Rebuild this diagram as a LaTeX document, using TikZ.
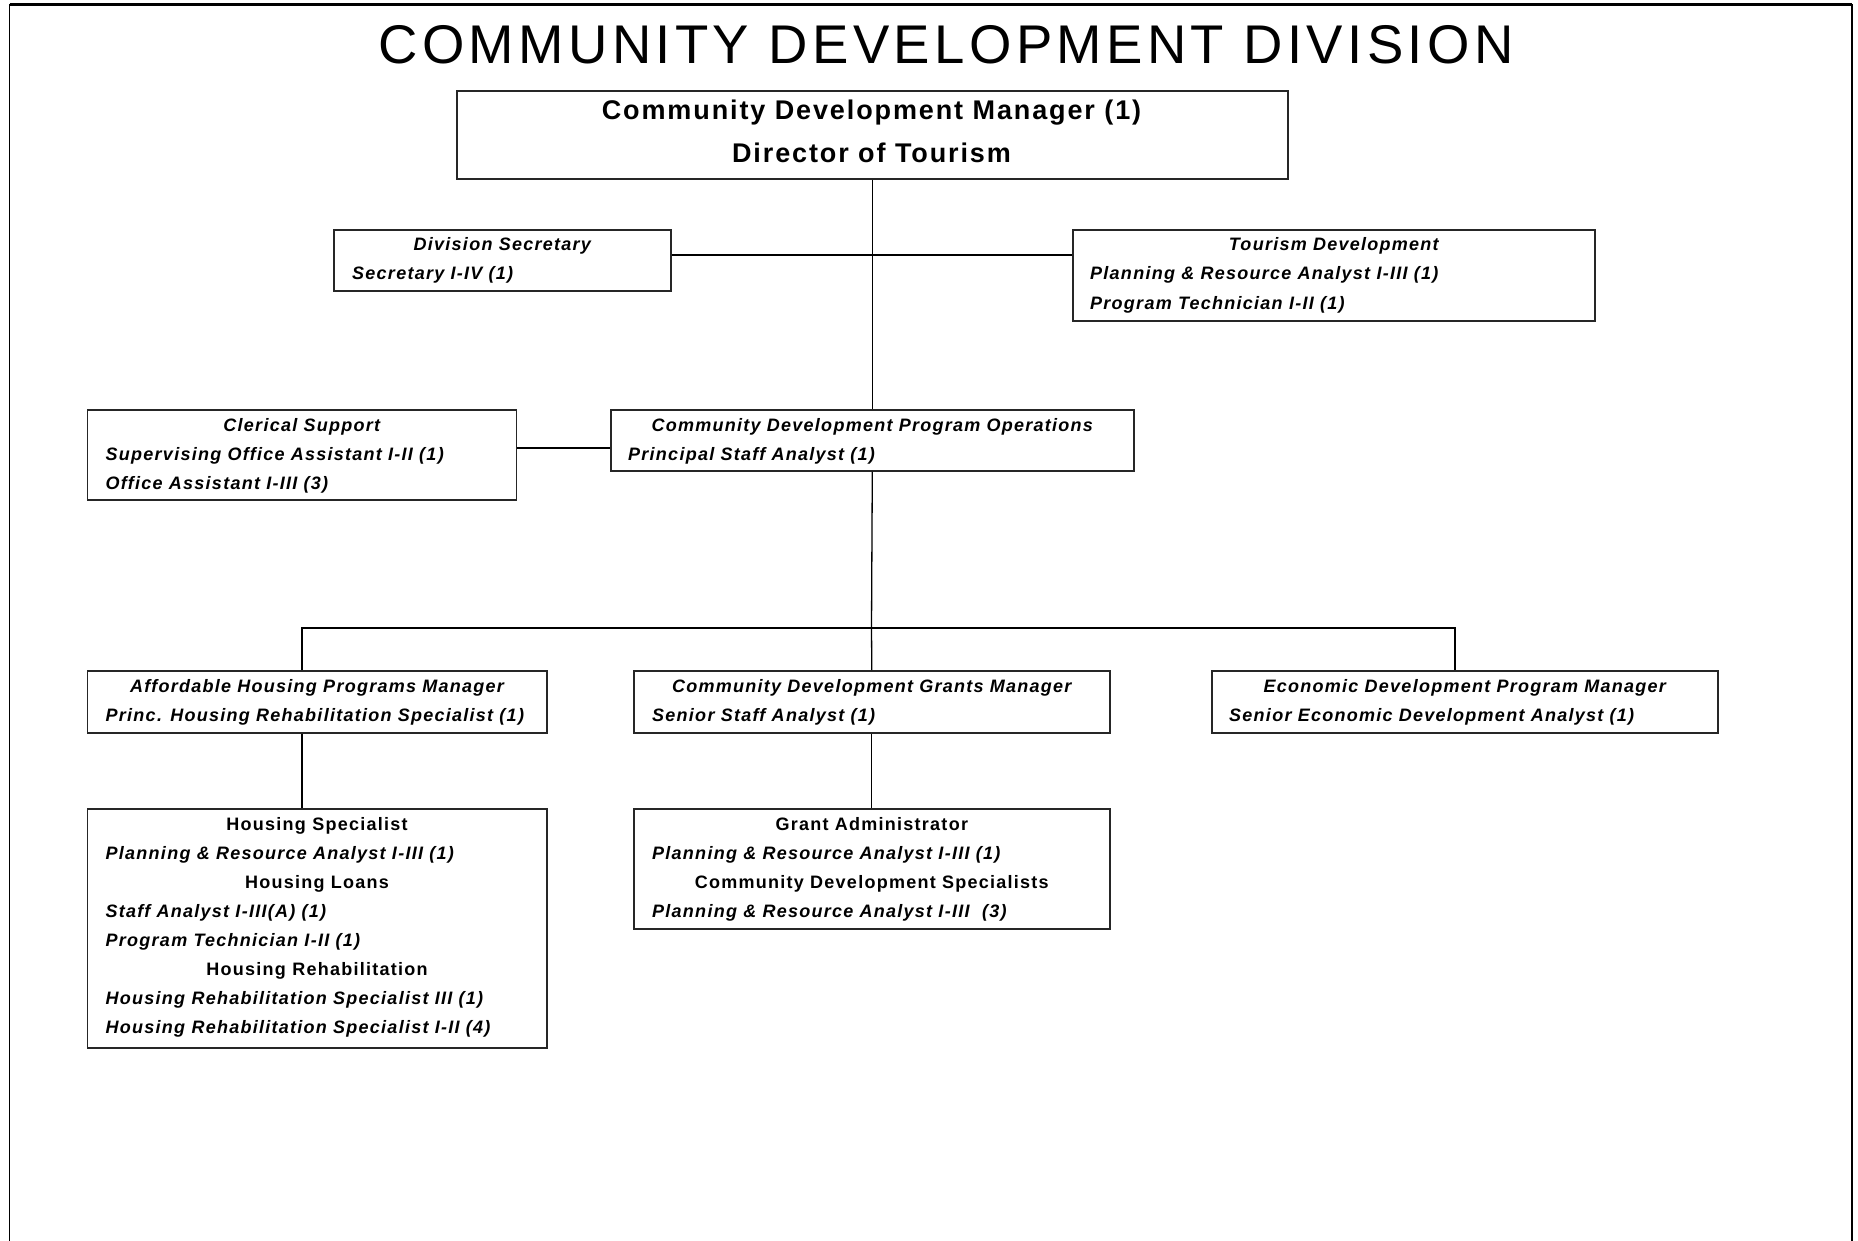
\documentclass[tikz,border=0pt]{standalone}
\usepackage{fontspec}
\setmainfont{Liberation Sans}
\newfontfamily\spacedfont[LetterSpace=7]{Liberation Sans}
\newfontfamily\titlefont[LetterSpace=8]{Liberation Sans}
\tikzset{
  orgbox/.style={draw=black!85, line width=1.6pt, inner sep=0pt, anchor=north west},
  link/.style={draw=black, line width=1.3pt},
  body/.style={anchor=base west, inner sep=0pt, font=\spacedfont\fontsize{18}{22}\selectfont\bfseries\itshape},
  ihead/.style={anchor=base, inner sep=0pt, font=\spacedfont\fontsize{18}{22}\selectfont\bfseries\itshape},
  head/.style={anchor=base, inner sep=0pt, font=\spacedfont\fontsize{18}{22}\selectfont\bfseries},
  tophead/.style={anchor=base, inner sep=0pt, font=\spacedfont\fontsize{27}{32}\selectfont\bfseries},
}
\begin{document}
\begin{tikzpicture}[x=1pt,y=-1pt]
\useasboundingbox (0,0) rectangle (1858,1241);
\fill[white] (0,0) rectangle (1858,1241);
% outer frame
\draw[line width=1.5pt] (9.5,1241) -- (9.5,5) -- (1852,5) -- (1852,1241);
\draw[line width=3pt] (9.5,5) -- (1852,5);
% title
\node[anchor=base, inner sep=0pt, font=\titlefont\fontsize{54.5}{60}\selectfont] (title) at (946,64) {COMMUNITY DEVELOPMENT DIVISION};

% top box
\node[orgbox, minimum width=831pt, minimum height=88pt] (top) at (456,90) {};
\node[tophead] (t1) at (871.5,120) {Community Development Manager (1)};
\node[tophead] (t2) at (871.5,163) {Director of Tourism};

% division secretary
\node[orgbox, minimum width=337pt, minimum height=61pt] (divsec) at (333,229) {};
\node[ihead] (d1) at (divsec.north |- 0,251) {Division Secretary};
\node[body] (d2) at (352,280) {Secretary I-IV (1)};

% tourism development
\node[orgbox, minimum width=522pt, minimum height=91pt] (tour) at (1072,229) {};
\node[ihead] (u1) at (tour.north |- 0,251) {Tourism Development};
\node[body] (u2) at (1090,280) {Planning \& Resource Analyst I-III (1)};
\node[body] (u3) at (1090,309) {Program Technician I-II (1)};

% clerical support
\node[orgbox, minimum width=429pt, minimum height=90pt] (cler) at (86.5,409) {};
\node[ihead] (c1) at (cler.north |- 0,431) {Clerical Support};
\node[body] (c2) at (105.5,460) {Supervising Office Assistant I-II (1)};
\node[body] (c3) at (105.5,489) {Office Assistant I-III (3)};

% program operations
\node[orgbox, minimum width=523pt, minimum height=61pt] (ops) at (610,409) {};
\node[ihead] (o1) at (ops.north |- 0,431) {Community Development Program Operations};
\node[body] (o2) at (628,460) {Principal Staff Analyst (1)};

% affordable housing
\node[orgbox, minimum width=459.5pt, minimum height=62pt] (aff) at (86.5,670) {};
\node[ihead] (a1) at (aff.north |- 0,692) {Affordable Housing Programs Manager};
\node[body] (a2) at (105.5,721) {Princ. Housing Rehabilitation Specialist (1)};

% grants manager
\node[orgbox, minimum width=476pt, minimum height=62pt] (grants) at (633,670) {};
\node[ihead] (g1) at (grants.north |- 0,692) {Community Development Grants Manager};
\node[body] (g2) at (652,721) {Senior Staff Analyst (1)};

% economic development
\node[orgbox, minimum width=506pt, minimum height=62pt] (econ) at (1211,670) {};
\node[ihead] (e1) at (econ.north |- 0,692) {Economic Development Program Manager};
\node[body] (e2) at (1229,721) {Senior Economic Development Analyst (1)};

% housing specialist
\node[orgbox, minimum width=459.5pt, minimum height=239pt] (hs) at (86.5,808) {};
\node[head] (h1) at (hs.north |- 0,830) {Housing Specialist};
\node[body] (h2) at (105.5,859) {Planning \& Resource Analyst I-III (1)};
\node[head] (h3) at (hs.north |- 0,888) {Housing Loans};
\node[body] (h4) at (105.5,917) {Staff Analyst I-III(A) (1)};
\node[body] (h5) at (105.5,946) {Program Technician I-II (1)};
\node[head] (h6) at (hs.north |- 0,975) {Housing Rehabilitation};
\node[body] (h7) at (105.5,1004) {Housing Rehabilitation Specialist III (1)};
\node[body] (h8) at (105.5,1033) {Housing Rehabilitation Specialist I-II (4)};

% grant administrator
\node[orgbox, minimum width=476pt, minimum height=120pt] (gadm) at (633,808) {};
\node[head] (r1) at (gadm.north |- 0,830) {Grant Administrator};
\node[body] (r2) at (652,859) {Planning \& Resource Analyst I-III (1)};
\node[head] (r3) at (gadm.north |- 0,888) {Community Development Specialists};
\node[body] (r4) at (652,917) {Planning \& Resource Analyst I-III \ (3)};

% connectors
\coordinate (j1) at (871.5,255);
\coordinate (j2) at (871.5,448);
\coordinate (j3) at (871.5,628);
\coordinate (affc) at (302,628);
\coordinate (econc) at (1455,628);
\draw[link] (top.south) -- (ops.north);
\draw[link] (divsec.east |- j1) -- (tour.west |- j1);
\draw[link] (cler.east |- j2) -- (ops.west |- j2);
\draw[link] (ops.south) -- (j3);
\draw[link] (affc |- aff.north) -- (affc) -- (econc) -- (econc |- econ.north);
\draw[link] (j3) -- (grants.north);
\draw[link] (affc |- aff.south) -- (affc |- hs.north);
\draw[link] (grants.south) -- (gadm.north);
\end{tikzpicture}
\end{document}
